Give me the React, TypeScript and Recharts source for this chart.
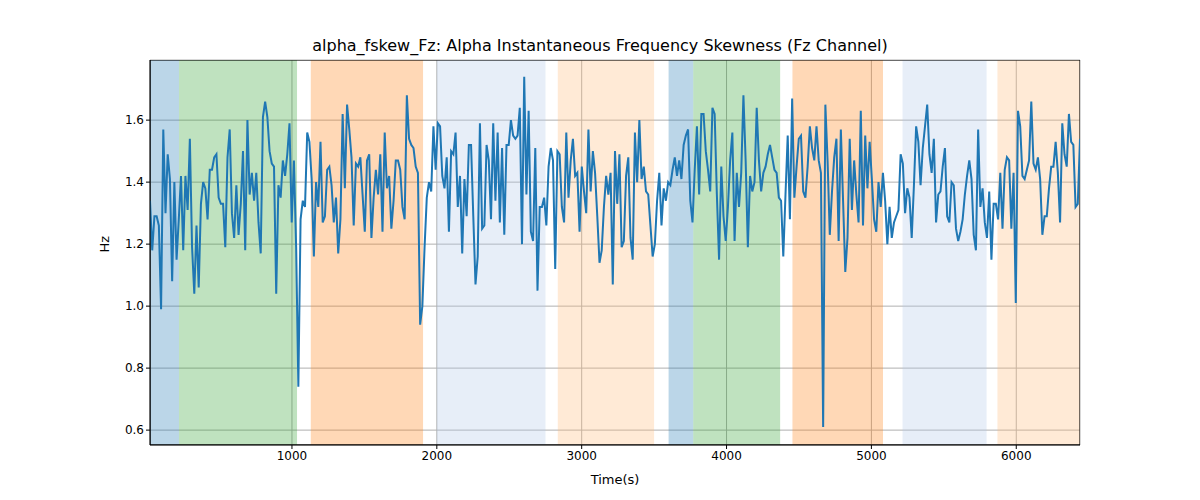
import { LineChart, Line, XAxis, YAxis, CartesianGrid, ReferenceArea } from "recharts";

const hzValues = [
  1.34, 1.18, 1.29, 1.29, 1.26, 0.99, 1.57, 1.30, 1.49, 1.41, 1.08, 1.40, 1.15, 1.28, 1.42, 1.18, 1.42, 1.31, 1.54, 1.19,
  1.04, 1.26, 1.06, 1.33, 1.40, 1.38, 1.28, 1.44, 1.44, 1.48, 1.49, 1.35, 1.33, 1.33, 1.19, 1.48, 1.57, 1.30, 1.22, 1.39,
  1.23, 1.33, 1.50, 1.18, 1.60, 1.36, 1.43, 1.34, 1.43, 1.27, 1.17, 1.61, 1.66, 1.61, 1.50, 1.46, 1.45, 1.04, 1.39, 1.35,
  1.47, 1.42, 1.49, 1.59, 1.27, 1.47, 1.19, 0.74, 1.28, 1.34, 1.32, 1.56, 1.53, 1.41, 1.16, 1.40, 1.32, 1.53, 1.27, 1.29,
  1.44, 1.45, 1.39, 1.27, 1.35, 1.17, 1.28, 1.62, 1.38, 1.65, 1.57, 1.48, 1.26, 1.46, 1.45, 1.48, 1.36, 1.24, 1.47, 1.49,
  1.22, 1.35, 1.44, 1.36, 1.49, 1.24,
  1.56, 1.38, 1.42, 1.25, 1.34, 1.47, 1.47, 1.44, 1.32, 1.28, 1.68, 1.54, 1.52, 1.51, 1.45, 1.43, 0.94, 1.00, 1.19, 1.35,
  1.40, 1.37, 1.58, 1.44, 1.59, 1.58, 1.42, 1.38, 1.48, 1.24, 1.50, 1.49, 1.56, 1.32, 1.42, 1.17, 1.41, 1.29, 1.52, 1.52,
  1.29, 1.07, 1.16, 1.59, 1.25, 1.26, 1.52, 1.47, 1.28, 1.59, 1.34, 1.56, 1.27, 1.51, 1.23, 1.52, 1.52, 1.60, 1.55, 1.54,
  1.55, 1.64, 1.20, 1.74, 1.36, 1.63, 1.24, 1.21, 1.51, 1.05, 1.32, 1.32, 1.35, 1.26, 1.45, 1.51, 1.47, 1.12, 1.50, 1.49,
  1.32, 1.27, 1.56, 1.35, 1.47, 1.54, 1.42, 1.43, 1.24, 1.45, 1.37, 1.30, 1.57, 1.37, 1.50, 1.43, 1.29, 1.14, 1.18, 1.32,
  1.42, 1.36, 1.43,
  1.07, 1.50, 1.33, 1.49, 1.19, 1.21, 1.42, 1.48, 1.22, 1.15, 1.56, 1.40, 1.60, 1.41, 1.45, 1.37, 1.36, 1.26, 1.16, 1.20,
  1.34, 1.43, 1.26, 1.38, 1.34, 1.40, 1.39, 1.44, 1.48, 1.42, 1.47, 1.41, 1.52, 1.55, 1.57, 1.34, 1.27, 1.44, 1.58, 1.36,
  1.62, 1.62, 1.50, 1.44, 1.37, 1.64, 1.62, 1.36, 1.15, 1.45, 1.29, 1.21, 1.32, 1.47, 1.56, 1.21, 1.43, 1.32, 1.43, 1.68,
  1.47, 1.19, 1.42, 1.37, 1.40, 1.64, 1.47, 1.37, 1.43, 1.45, 1.49, 1.52, 1.48, 1.44, 1.43, 1.35, 1.34, 1.16, 1.36, 1.55,
  1.28, 1.67, 1.35, 1.45, 1.54, 1.55, 1.37, 1.35, 1.45, 1.58, 1.51, 1.47, 1.58, 1.47, 1.43, 0.61, 1.65, 1.47, 1.23, 1.37,
  1.48, 1.54, 1.21, 1.57, 1.34, 1.11,
  1.22, 1.54, 1.31, 1.47, 1.36, 1.27, 1.63, 1.26, 1.55, 1.38, 1.53, 1.41, 1.28, 1.24, 1.40, 1.32, 1.43, 1.34, 1.20, 1.32,
  1.22, 1.27, 1.29, 1.31, 1.49, 1.46, 1.30, 1.38, 1.35, 1.22, 1.39, 1.58, 1.53, 1.39, 1.51, 1.58, 1.65, 1.49, 1.43, 1.54,
  1.27, 1.36, 1.37, 1.45, 1.51, 1.29, 1.27, 1.40, 1.39, 1.25, 1.21, 1.24, 1.28, 1.36, 1.42, 1.47, 1.41, 1.23, 1.18, 1.57,
  1.32, 1.38, 1.27, 1.22, 1.37, 1.15, 1.33, 1.33, 1.28, 1.43, 1.25, 1.44, 1.48, 1.47, 1.25, 1.43, 1.01, 1.63, 1.58, 1.42,
  1.41, 1.44, 1.47, 1.66, 1.46, 1.44, 1.48, 1.41, 1.23, 1.29, 1.29, 1.38, 1.45, 1.45, 1.53, 1.43, 1.27, 1.59, 1.49, 1.45,
  1.62, 1.53, 1.52, 1.32, 1.33, 1.54,
];

const T_START = 20;
const T_END = 6440;

const bands = [
  { x1: 20, x2: 220, color: "#1f77b4", opacity: 0.3 },
  { x1: 220, x2: 1035, color: "#2ca02c", opacity: 0.3 },
  { x1: 1130, x2: 1905, color: "#ff7f0e", opacity: 0.3 },
  { x1: 2000, x2: 2750, color: "#aec7e8", opacity: 0.3 },
  { x1: 2835, x2: 3500, color: "#ffbb78", opacity: 0.3 },
  { x1: 3600, x2: 3770, color: "#1f77b4", opacity: 0.3 },
  { x1: 3770, x2: 4370, color: "#2ca02c", opacity: 0.3 },
  { x1: 4455, x2: 5080, color: "#ff7f0e", opacity: 0.3 },
  { x1: 5215, x2: 5795, color: "#aec7e8", opacity: 0.3 },
  { x1: 5870, x2: 6440, color: "#ffbb78", opacity: 0.3 },
];

const xTicks = [1000, 2000, 3000, 4000, 5000, 6000];
const yTicks = [0.6, 0.8, 1.0, 1.2, 1.4, 1.6];

const step = (T_END - T_START) / (hzValues.length - 1);
const data = hzValues.map((v, i) => ({ t: T_START + i * step, v }));

const font = "DejaVu Sans, sans-serif";

export default function App() {
  return (
    <div style={{ position: "absolute", left: 0, top: 0, width: 1200, height: 500, background: "#fff", fontFamily: font }}>
      <div style={{ position: "absolute", top: 36, width: 1200, textAlign: "center", fontSize: 16 }}>
        alpha_fskew_Fz: Alpha Instantaneous Frequency Skewness (Fz Channel)
      </div>
      <div style={{ position: "absolute", top: 472, left: 150, width: 930, textAlign: "center", fontSize: 13 }}>
        Time(s)
      </div>
      <LineChart width={1200} height={500} data={data} margin={{ top: 60, right: 120, bottom: 25, left: 90 }}>
        {bands.map((b, i) => (
          <ReferenceArea key={i} x1={b.x1} x2={b.x2} fill={b.color} fillOpacity={b.opacity} stroke="none" ifOverflow="hidden" />
        ))}
        <CartesianGrid stroke="#b0b0b0" strokeWidth={1} vertical horizontal />
        <XAxis
          dataKey="t"
          type="number"
          domain={[T_START, T_END]}
          ticks={xTicks}
          allowDataOverflow
          height={30}
          stroke="#000"
          tick={{ fill: "#000", fontSize: 12, fontFamily: font }}
          tickSize={4}
        />
        <YAxis
          type="number"
          domain={[0.552, 1.794]}
          ticks={yTicks}
          allowDataOverflow
          width={60}
          stroke="#000"
          tickFormatter={(v: number) => v.toFixed(1)}
          tick={{ fill: "#000", fontSize: 12, fontFamily: font }}
          tickSize={4}
          label={{ value: "Hz", angle: -90, position: "insideLeft", offset: 14, fill: "#000", fontSize: 13, fontFamily: font }}
        />
        <ReferenceArea x1={T_START} x2={T_END} y1={0.552} y2={1.794} fill="none" stroke="#000" strokeWidth={1} ifOverflow="hidden" />
        <Line dataKey="v" stroke="#1f77b4" strokeWidth={2} dot={false} isAnimationActive={false} />
      </LineChart>
    </div>
  );
}
